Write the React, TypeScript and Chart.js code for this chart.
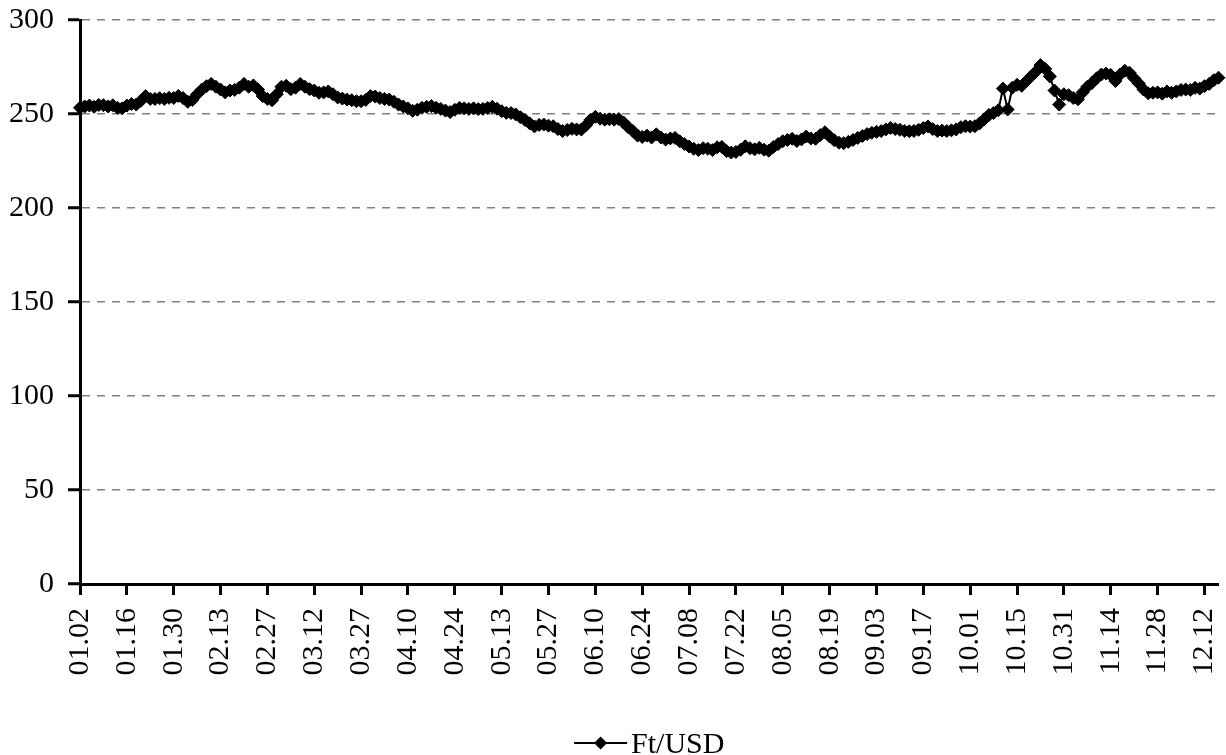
import React, { useEffect, useRef } from "react";
import { Chart, registerables } from "chart.js";

Chart.register(...registerables);

// Tick labels shown every 10th trading day
const tickLabels = [
  "01.02", "01.16", "01.30", "02.13", "02.27", "03.12", "03.27", "04.10", "04.24",
  "05.13", "05.27", "06.10", "06.24", "07.08", "07.22", "08.05", "08.19", "09.03",
  "09.17", "10.01", "10.15", "10.31", "11.14", "11.28", "12.12",
];

const seriesName = "Ft/USD";

// Daily Ft/USD rate
const rates = [
  253.3, 254, 254.5, 253.8, 254.8, 254.7, 254, 254.6, 253.3, 253,
  254.5, 255.3, 255, 257, 259.5, 258, 258, 258.4, 258, 258.6,
  258.5, 259.6, 258.5, 256.5, 257.5, 260.5, 263, 264.8, 266, 264.5,
  263, 261.5, 262.5, 262.8, 264, 266, 264.5, 265.2, 263, 259.5,
  258, 257.3, 260.5, 264.5, 265, 263.2, 264, 266, 264.5, 263.2,
  262.5, 261.3, 261.5, 262, 260.5, 258.8, 258.2, 257.7, 257.3, 256.8,
  256.8, 257.5, 259.6, 259.3, 258.5, 258, 257.7, 256.5, 255, 254,
  253, 251.7, 252.3, 253.3, 253.8, 254.2, 253.3, 252.7, 251.8, 251,
  252.2, 253.3, 253, 252.7, 253, 252.6, 252.7, 253.2, 253.8, 252.8,
  251.5, 250.6, 250.5, 249.8, 248.3, 246.8, 245, 243.4, 244.2, 244.4,
  243.8, 243.5, 242, 240.9, 241.5, 242.1, 241.8, 241.7, 244, 247,
  248.5, 247.5, 247, 247.2, 247, 247.3, 245.5, 243, 241, 238.5,
  237.8, 238.5, 237.5, 239.2, 237.5, 236.4, 237, 237.3, 235.5, 234,
  232.7, 231.5, 230.8, 231.8, 231.5, 230.8, 232.3, 232.5, 230.3, 229.5,
  229.8, 231, 232.8, 231.8, 231.2, 232, 231, 230.5, 232.5, 234,
  235.5, 236.2, 236.8, 235.6, 236.5, 238, 237, 236.8, 238.8, 240.3,
  238, 236, 234.7, 234.5, 235.2, 236.2, 237.3, 238.3, 239.3, 240,
  240.5, 240.9, 241.8, 242.6, 242, 241.6, 241, 240.8, 241, 241.6,
  242.5, 243.4, 242, 240.9, 241.2, 240.9, 241.3, 241.8, 243, 243.5,
  243.3, 243.5, 245, 247.2, 249.5, 250.5, 252, 263.5, 252.4, 264,
  265.5, 265, 267.5, 270, 272.5, 276, 274, 270, 262.5, 255,
  260.5, 260, 258.5, 257.8, 261.5, 264.5, 266.5, 269, 271, 271.5,
  270.8, 267.5, 271, 273, 272, 269, 266.2, 263, 261, 261.3,
  261.5, 260.8, 262, 261.3, 262, 262.8, 263, 262.8, 263.9, 263.5,
  264.8, 266, 268, 269.3,
];

const yMin = 0;
const yMax = 300;
const yStep = 50;

const categories = rates.map((_, i) =>
  i % 10 === 0 && tickLabels[i / 10] !== undefined ? tickLabels[i / 10] : ""
);

const FONT = "'Liberation Serif', 'Times New Roman', serif";

const legendPlugin = {
  id: "bottomLegend",
  afterDraw(chart: any) {
    const { ctx, chartArea } = chart;
    const cx = (chartArea.left + chartArea.right) / 2;
    ctx.save();
    ctx.font = `30px ${FONT}`;
    const tw = ctx.measureText(seriesName).width;
    const lineW = 53;
    const gap = 4;
    const total = lineW + gap + tw;
    const x0 = cx - total / 2;
    const y = 743;
    ctx.strokeStyle = "#000";
    ctx.lineWidth = 2;
    ctx.beginPath();
    ctx.moveTo(x0, y);
    ctx.lineTo(x0 + lineW, y);
    ctx.stroke();
    const dx = x0 + lineW / 2;
    const r = 6.5;
    ctx.beginPath();
    ctx.moveTo(dx - r, y);
    ctx.lineTo(dx, y - r);
    ctx.lineTo(dx + r, y);
    ctx.lineTo(dx, y + r);
    ctx.closePath();
    ctx.fillStyle = "#000";
    ctx.fill();
    ctx.textAlign = "left";
    ctx.textBaseline = "alphabetic";
    ctx.fillText(seriesName, x0 + lineW + gap, 753);
    ctx.restore();
  },
};

export default function App() {
  const canvasRef = useRef<HTMLCanvasElement | null>(null);

  useEffect(() => {
    const canvas = canvasRef.current;
    if (!canvas) return;
    const chart = new Chart(canvas, {
      type: "line",
      data: {
        labels: categories,
        datasets: [
          {
            label: seriesName,
            data: rates,
            borderColor: "#000",
            backgroundColor: "#000",
            borderWidth: 2,
            pointStyle: "rectRot",
            pointRadius: 6.5,
            pointBorderWidth: 1,
            pointBackgroundColor: "#000",
            pointBorderColor: "#000",
            tension: 0,
            fill: false,
            clip: false as any,
          },
        ],
      },
      options: {
        responsive: false,
        animation: false,
        devicePixelRatio: 1,
        layout: { padding: { top: 20, right: 4, left: 0, bottom: 0 } },
        plugins: {
          legend: { display: false },
          tooltip: { enabled: false },
        },
        scales: {
          x: {
            type: "category",
            offset: false,
            grid: {
              drawOnChartArea: false,
              drawTicks: true,
              tickLength: 11,
              tickWidth: 3,
              tickColor: (ctx: any) => (ctx.index % 10 === 0 ? "#000" : "rgba(0,0,0,0)"),
            },
            border: { display: true, color: "#000", width: 3 },
            ticks: {
              autoSkip: false,
              minRotation: 90,
              maxRotation: 90,
              padding: 13,
              color: "#000",
              font: { family: FONT, size: 30 },
            },
            afterFit: (s: any) => {
              s.height = 171;
              s.paddingLeft = 0;
              s.paddingRight = 0;
            },
          },
          y: {
            min: yMin,
            max: yMax,
            ticks: {
              stepSize: yStep,
              padding: 14,
              color: "#000",
              font: { family: FONT, size: 30 },
            },
            grid: {
              color: (ctx: any) => (ctx.tick && ctx.tick.value === 0 ? "rgba(0,0,0,0)" : "#808080"),
              lineWidth: 1.5,
              tickColor: "#000",
              tickLength: 12,
              tickWidth: 3,
            },
            border: { display: true, color: "#000", width: 3, dash: [8, 7] },
            afterFit: (s: any) => {
              s.width = 80;
              s.paddingTop = 0;
              s.paddingBottom = 0;
            },
          },
        },
      },
      plugins: [legendPlugin],
    });
    return () => chart.destroy();
  }, []);

  return (
    <div style={{ position: "absolute", left: 0, top: 0, width: 1226, height: 755, background: "#fff" }}>
      <canvas ref={canvasRef} width={1226} height={755} />
    </div>
  );
}
